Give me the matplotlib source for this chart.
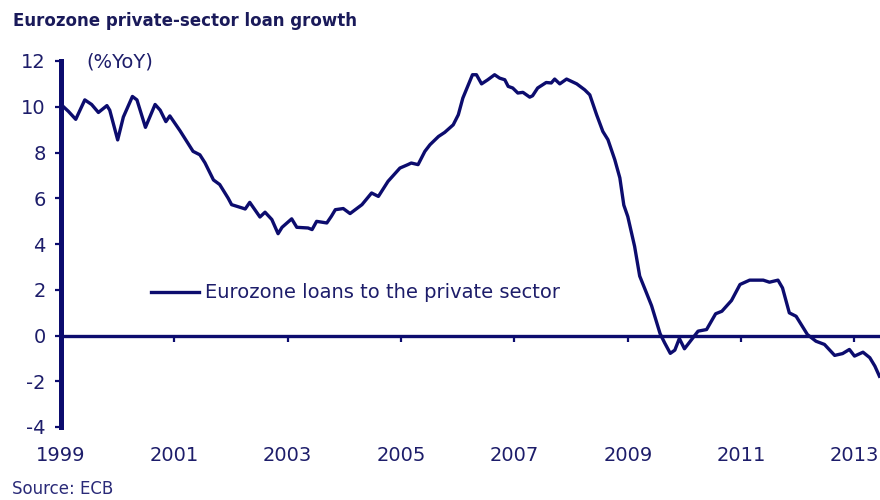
import matplotlib
matplotlib.use("Agg")
import matplotlib.pyplot as plt

# ---- data ----
dates = [1999.00, 1999.13, 1999.26, 1999.42, 1999.54, 1999.66, 1999.81, 1999.86,
         2000.00, 2000.10, 2000.26, 2000.34, 2000.49, 2000.66, 2000.75, 2000.85,
         2000.92, 2001.10, 2001.33, 2001.45, 2001.54, 2001.69, 2001.80, 2001.95,
         2002.01, 2002.19, 2002.25, 2002.33, 2002.51, 2002.60, 2002.72, 2002.83,
         2002.90, 2003.07, 2003.16, 2003.36, 2003.43, 2003.51, 2003.69, 2003.77,
         2003.84, 2003.98, 2004.10, 2004.31, 2004.48, 2004.60, 2004.77, 2004.98,
         2005.12, 2005.18, 2005.30, 2005.42, 2005.51, 2005.66, 2005.77, 2005.92,
         2006.01, 2006.09, 2006.21, 2006.26, 2006.33, 2006.42, 2006.53, 2006.65,
         2006.74, 2006.83, 2006.89, 2006.97, 2007.06, 2007.15, 2007.27, 2007.32,
         2007.41, 2007.56, 2007.65, 2007.71, 2007.80, 2007.92, 2008.10, 2008.24,
         2008.33, 2008.45, 2008.56, 2008.65, 2008.77, 2008.86, 2008.93, 2009.00,
         2009.12, 2009.21, 2009.33, 2009.42, 2009.57, 2009.65, 2009.75, 2009.83,
         2009.91, 2010.00, 2010.15, 2010.24, 2010.39, 2010.55, 2010.66, 2010.83,
         2010.98, 2011.15, 2011.39, 2011.50, 2011.65, 2011.73, 2011.85, 2011.97,
         2012.17, 2012.32, 2012.47, 2012.65, 2012.79, 2012.91, 2013.00, 2013.15,
         2013.27, 2013.36, 2013.44]
loans = [10.1, 9.8, 9.45, 10.3, 10.1, 9.75, 10.05, 9.85,
         8.55, 9.55, 10.45, 10.3, 9.1, 10.1, 9.85, 9.35,
         9.6, 8.95, 8.05, 7.9, 7.55, 6.8, 6.6, 6.0,
         5.72, 5.58, 5.53, 5.82, 5.18, 5.39, 5.07, 4.45,
         4.73, 5.1, 4.73, 4.70, 4.63, 4.99, 4.92, 5.21,
         5.50, 5.55, 5.33, 5.72, 6.23, 6.08, 6.74, 7.32,
         7.47, 7.54, 7.47, 8.05, 8.34, 8.70, 8.88, 9.21,
         9.65, 10.38, 11.10, 11.40, 11.40, 11.00, 11.18, 11.40,
         11.25, 11.18, 10.89, 10.82, 10.60, 10.63, 10.42, 10.48,
         10.82, 11.06, 11.04, 11.21, 11.0, 11.21, 11.0, 10.74,
         10.52, 9.65, 8.92, 8.56, 7.69, 6.89, 5.7, 5.2,
         3.9, 2.6, 1.86, 1.3, 0.08, -0.32, -0.78, -0.64,
         -0.13, -0.58, -0.1, 0.19, 0.26, 0.95, 1.06, 1.53,
         2.23, 2.42, 2.42, 2.33, 2.42, 2.08, 0.99, 0.84,
         0.04, -0.25, -0.39, -0.87, -0.79, -0.61, -0.90, -0.73,
         -0.97, -1.34, -1.78]
year_ticks = [1999, 2001, 2003, 2005, 2007, 2009, 2011, 2013]
y_ticks = [-4, -2, 0, 2, 4, 6, 8, 10, 12]
series_label = "Eurozone loans to the private sector"
title = "Eurozone private-sector loan growth"
unit = "(%YoY)"
source = "Source: ECB"

NAVY = "#0c0c6e"
TXT = "#1d1d6a"

plt.rcParams['font.family'] = ['DejaVu Sans']
plt.rcParams['axes.unicode_minus'] = False

fig = plt.figure(figsize=(8.8, 5.0), dpi=100)
ax = fig.add_axes([61/880, 1 - 427/500, 1 - 61/880, (427 - 61)/500])

ax.plot(dates, loans, color=NAVY, lw=2.4, label=series_label, solid_joinstyle='round')
ax.axhline(0, color=NAVY, lw=2.4, zorder=1)

ax.set_xlim(1999, 2013.45)
ax.set_ylim(-4, 12)
ax.set_yticks(y_ticks)
ax.set_xticks(year_ticks)
ax.set_xticklabels([str(y) for y in year_ticks])

for s in ['top', 'right', 'bottom']:
    ax.spines[s].set_visible(False)
ax.spines['left'].set_color(NAVY)
ax.spines['left'].set_linewidth(3.6)

ax.tick_params(axis='y', direction='out', length=4, width=1.6, color=NAVY,
               labelsize=14, labelcolor=TXT, pad=7)
ax.tick_params(axis='x', length=0, labelsize=14, labelcolor=TXT, pad=14)

# ticks on the zero line
sec = ax.secondary_xaxis(0.25)
sec.set_xticks(year_ticks[1:])
sec.set_xticklabels([])
for s in sec.spines.values():
    s.set_visible(False)
sec.tick_params(axis='x', direction='out', length=4, width=1.6, color=NAVY)

leg = ax.legend(loc='center left', bbox_to_anchor=((151 - 61)/819, (427 - 293)/366),
                frameon=False, fontsize=14, handlelength=2.45, handletextpad=0.33,
                borderpad=0, borderaxespad=0)
for t in leg.get_texts():
    t.set_color(TXT)

fig.text(13/880, 1 - 21/500, title, fontsize=12, fontweight='bold', color="#1a1a5a",
         ha='left', va='center')
fig.text(86/880, 1 - 62/500, unit, fontsize=14, color=TXT, ha='left', va='center')
fig.text(12/880, 1 - 489/500, source, fontsize=12, color="#2a2a78", ha='left', va='center')

fig.savefig("out.png", dpi=100)
